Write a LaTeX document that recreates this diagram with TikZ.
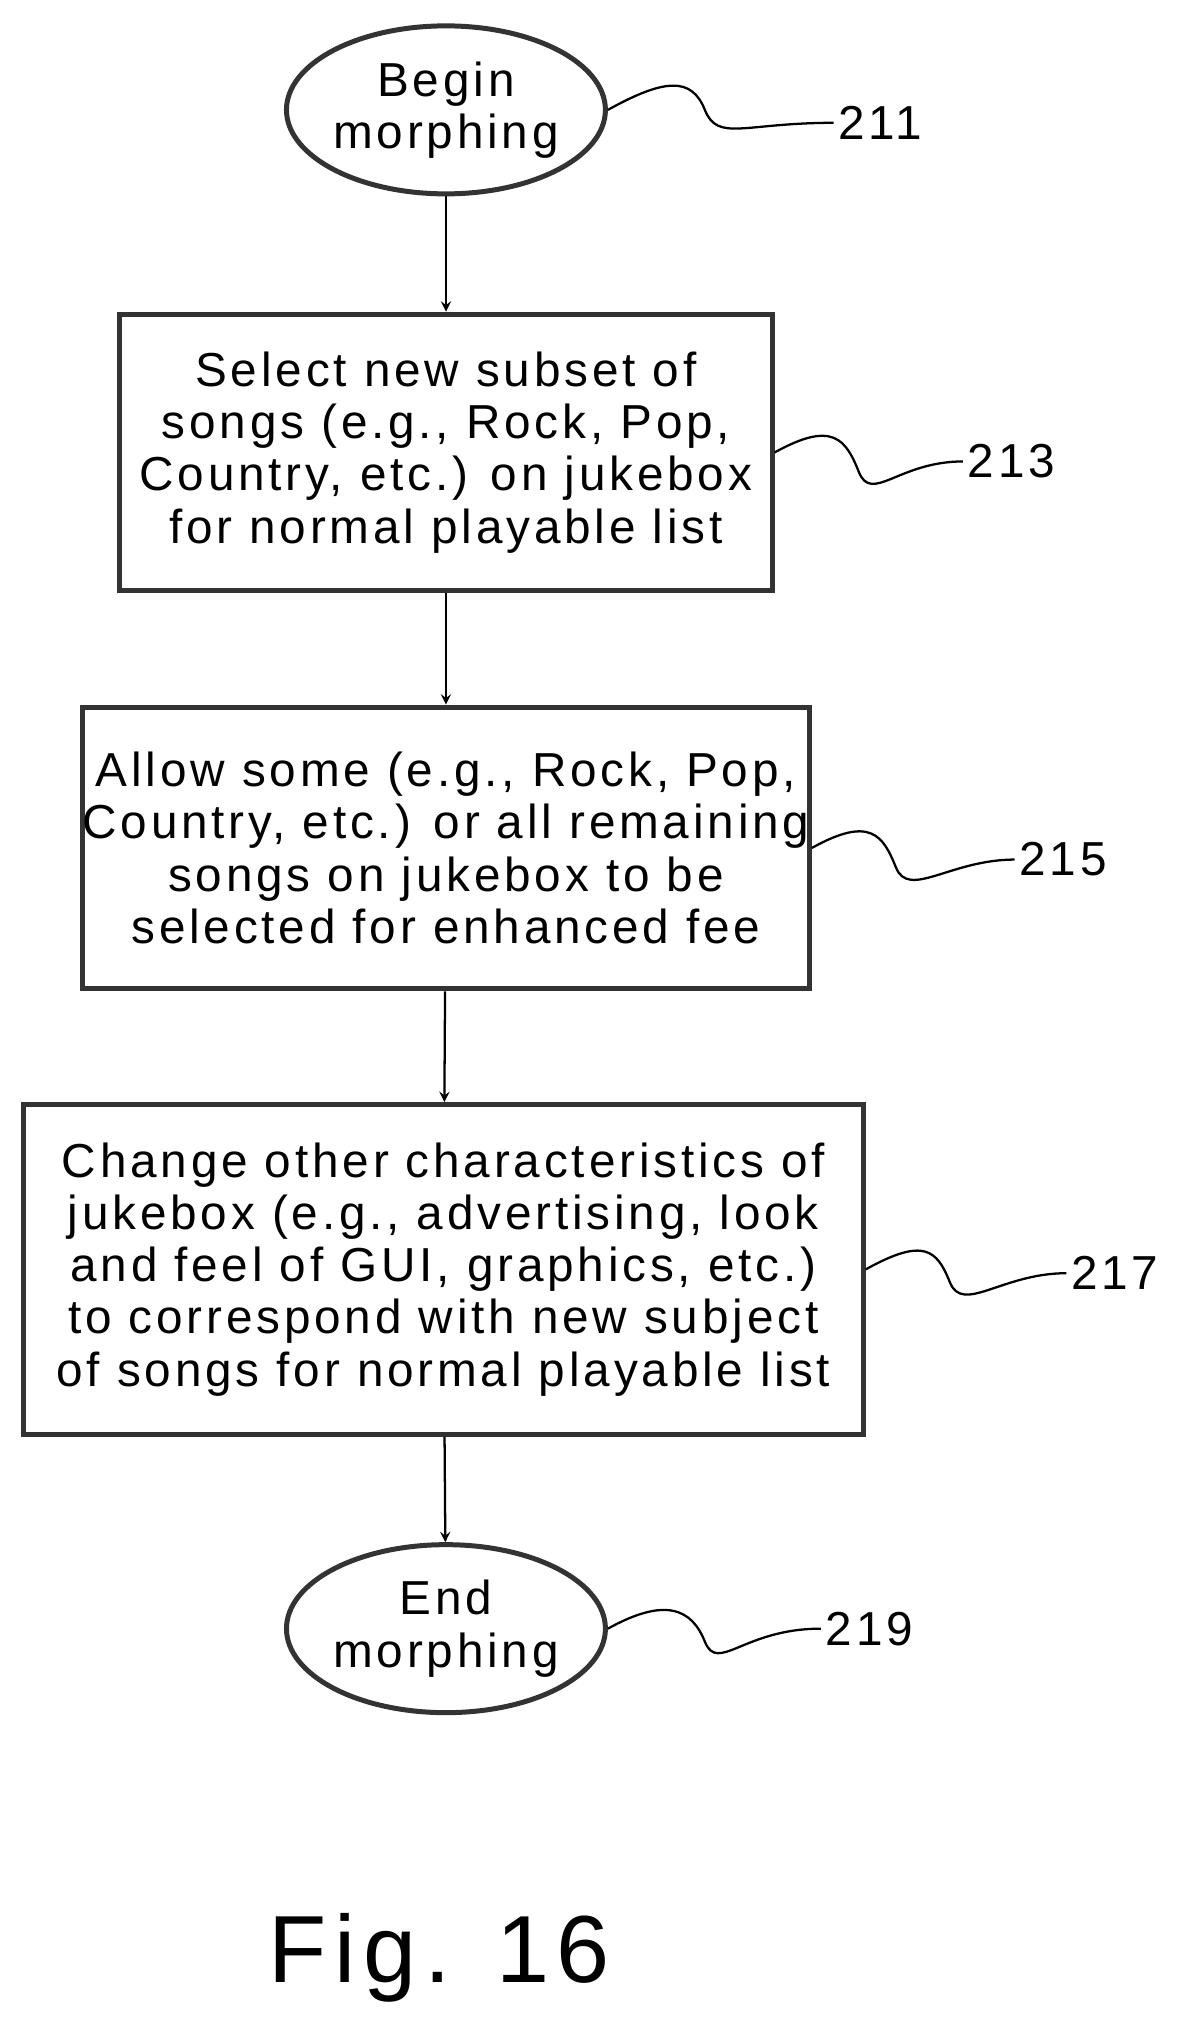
\documentclass[tikz,border=0pt]{standalone}
\usepackage{fontspec}
\setmainfont{Liberation Sans}[LetterSpace=8]
\usetikzlibrary{arrows,shapes.geometric}
\tikzset{stp/.append style={draw=black!80,line width=2.2pt,align=center,font=\fontsize{21}{23}\selectfont,inner sep=0pt}}
\tikzset{term/.append style={stp,ellipse,minimum width=3.45cm,minimum height=2.6cm}}
\tikzset{ref/.append style={font=\fontsize{21}{23}\selectfont,anchor=west,inner sep=2pt}}
\tikzset{flow/.append style={->,>=stealth,line width=1pt}}
\tikzset{wig/.append style={line width=1pt}}
\begin{document}
\begin{tikzpicture}[x=0.02cm,y=-0.02cm]
                \useasboundingbox (0,0) rectangle (912,1562);
                % steps
                \node[term] (a) at (345,85) {Begin\\morphing};
                \node[stp,minimum width=10.1cm,minimum height=4.28cm] (b) at (345,350) {Select new subset of\\songs (e.g., Rock, Pop,\\Country, etc.) on jukebox\\for normal playable list};
                \node[stp,minimum width=9.48cm,minimum height=4.36cm] (c) at (345,656) {Allow some (e.g., Rock, Pop,\\Country, etc.) or all remaining\\songs on jukebox to be\\selected for enhanced fee};
                \node[stp,minimum width=13cm,minimum height=5.1cm] (d) at (343,982) {Change other characteristics of\\jukebox (e.g., advertising, look\\and feel of GUI, graphics, etc.)\\to correspond with new subject\\of songs for normal playable list};
                \node[term] (e) at (345,1260) {End\\morphing};
                \draw[flow] (a) -- (b);
                \draw[flow] (b) -- (c);
                \draw[flow] (c) -- (d);
                \draw[flow] (d) -- (e);
                % reference numerals
                \node[ref] (la) at (645,95) {211};
                \node[ref] (lb) at (745,357) {213};
                \node[ref] (lc) at (785,665) {215};
                \node[ref] (ld) at (825,985) {217};
                \node[ref] (le) at (635,1260) {219};
                \draw[wig] (a.east) .. controls +(45,-25) and +(-10,-25) .. ++(75,0) .. controls +(10,25) and +(-70,0) .. (la.west);
                \draw[wig] (b.east) .. controls +(45,-25) and +(-10,-25) .. ++(65,15) .. controls +(10,25) and +(-50,0) .. (lb.west);
                \draw[wig] (c.east) .. controls +(45,-25) and +(-10,-25) .. ++(65,15) .. controls +(10,25) and +(-50,0) .. (lc.west);
                \draw[wig] (d.east) .. controls +(45,-25) and +(-10,-25) .. ++(65,10) .. controls +(10,25) and +(-50,0) .. (ld.west);
                \draw[wig] (e.east) .. controls +(45,-25) and +(-10,-25) .. ++(75,10) .. controls +(10,25) and +(-60,0) .. (le.west);
                \node[font=\fontsize{42}{46}\selectfont] (fig) at (340,1515) {Fig. 16};
\end{tikzpicture}
\end{document}
